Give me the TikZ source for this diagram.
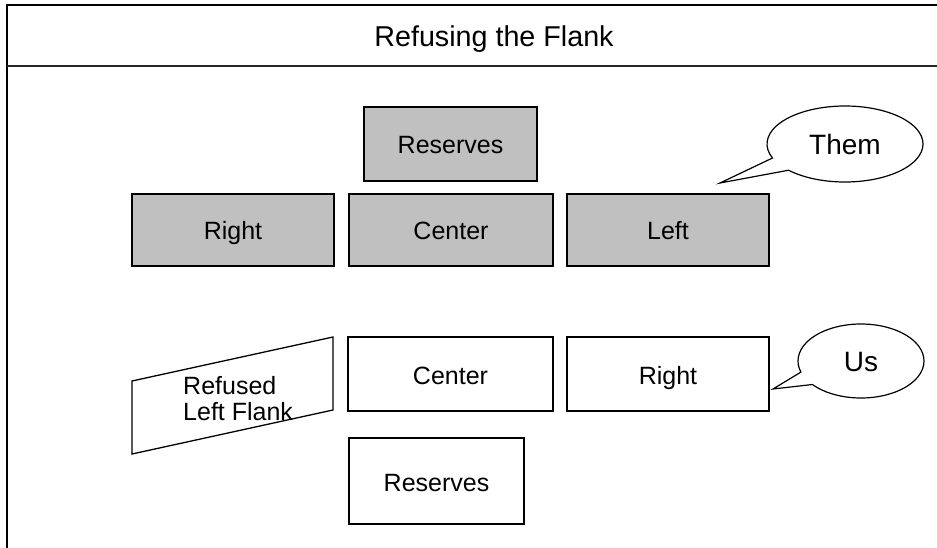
\documentclass[tikz,border=0pt]{standalone}
\usepackage{fontspec}
\setmainfont{Liberation Sans}
\usetikzlibrary{shapes.callouts}
\definecolor{boxgray}{HTML}{C0C0C0}
\tikzset{
  unit/.style={draw=black, line width=1.3pt, inner sep=0pt,
    text height=20pt, text depth=0pt,
    font=\fontsize{25}{27}\selectfont},
  enemy/.style={unit, fill=boxgray},
  friend/.style={unit, fill=white},
  bubble/.style={ellipse callout, draw=black, line width=1.2pt, fill=white,
    inner sep=0pt, callout pointer arc=22,
    text height=21pt, text depth=0pt,
    font=\fontsize{28}{30}\selectfont},
}
\begin{document}
\begin{tikzpicture}[x=1pt, y=-1pt]
  \useasboundingbox (0,0) rectangle (937,548);

  % outer frame and title band
  \coordinate (frameTL) at (7,5);
  \coordinate (frameTR) at (940,5);
  \coordinate (frameBL) at (7,552);
  \coordinate (bandL) at (7,66);
  \coordinate (bandR) at (940,66);
  \draw[line width=2.2pt] (frameBL) -- (frameTL) -- (frameTR);
  \draw[line width=1.6pt, draw=black!85] (bandL) -- (bandR);
  \node[anchor=base, inner sep=0pt, font=\fontsize{28.7}{30}\selectfont]
    (title) at (494,47) {Refusing the Flank};

  % opposing army
  \node[enemy, minimum width=173pt, minimum height=74pt] (themres) at (450.5,144) {Reserves};
  \node[enemy, minimum width=202pt, minimum height=72pt] (themright) at (233,230) {Right};
  \node[enemy, minimum width=204pt, minimum height=72pt] (themcenter) at (451,230) {Center};
  \node[enemy, minimum width=202pt, minimum height=72pt] (themleft) at (668,230) {Left};

  % our army
  \node[friend, minimum width=205pt, minimum height=74pt] (uscenter) at (450.5,374) {Center};
  \node[friend, minimum width=202pt, minimum height=74pt] (usright) at (668,374) {Right};
  \node[friend, minimum width=175pt, minimum height=86pt] (usres) at (436.5,481) {Reserves};

  % refused left flank, drawn slanted back
  \coordinate (flankA) at (132,381);
  \coordinate (flankB) at (333,337);
  \coordinate (flankC) at (333,410);
  \coordinate (flankD) at (132,454);
  \draw[line width=1.3pt] (flankA) -- (flankB) -- (flankC) -- (flankD) -- cycle;
  \node[anchor=west, align=left, inner sep=0pt,
        font=\fontsize{25}{26}\selectfont] (flank) at (183,399) {Refused\\Left Flank};

  % speech bubbles
  \coordinate (themtip) at (720,183);
  \coordinate (ustip) at (773,389);
  \node[bubble, minimum width=156pt, minimum height=76pt,
        callout absolute pointer={(themtip)}] (themlabel) at (845,144) {Them};
  \node[bubble, minimum width=126pt, minimum height=74pt,
        callout absolute pointer={(ustip)}] (uslabel) at (861,361) {Us};
\end{tikzpicture}
\end{document}
